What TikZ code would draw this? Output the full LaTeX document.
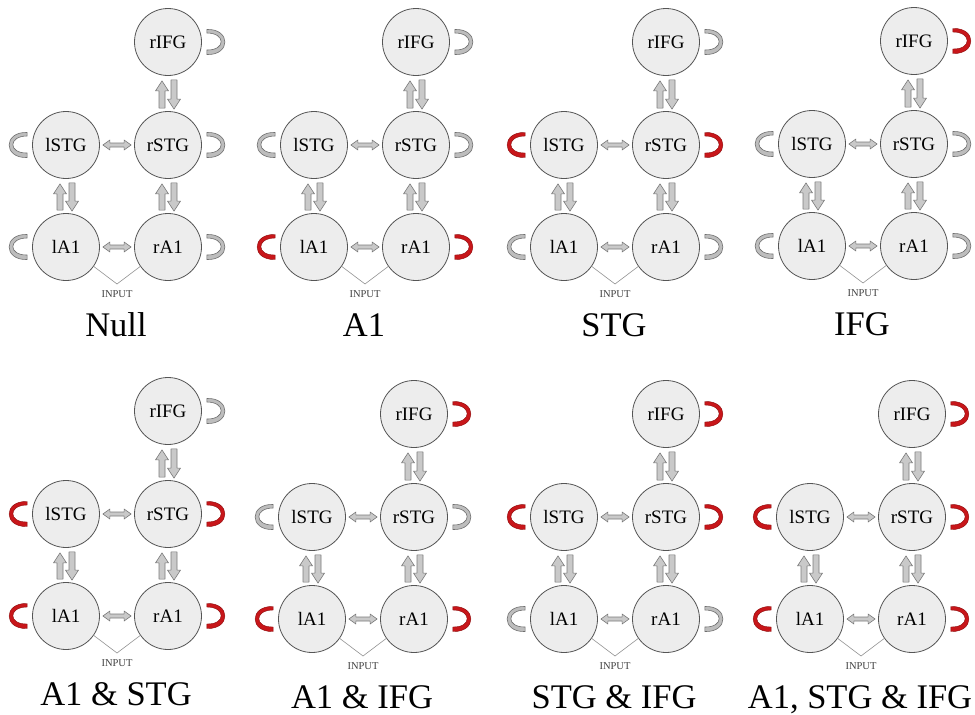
\documentclass[tikz,border=0pt]{standalone}
\usepackage{fontspec}
\setmainfont{Liberation Serif}
\usetikzlibrary{calc}
\definecolor{nodefill}{HTML}{EDEDED}
\definecolor{nodeline}{HTML}{555555}
\definecolor{arrfill}{HTML}{C9C9C9}
\definecolor{arrline}{HTML}{7A7A7A}
\definecolor{loopgray}{HTML}{BDBDBD}
\definecolor{loopgrayline}{HTML}{6E6E6E}
\definecolor{loopred}{HTML}{C8161A}
\definecolor{loopredline}{HTML}{8A0A0A}
\tikzset{
  region/.style={circle, draw=nodeline, fill=nodefill, line width=0.8pt, minimum size=67pt, inner sep=0pt, font=\fontsize{19}{22}\selectfont},
  blkstyle/.style={draw=arrline, fill=arrfill, line width=0.6pt, line join=round},
  gloop/.style={draw=loopgrayline, fill=loopgray, line width=0.6pt},
  rloop/.style={draw=loopredline, fill=loopred, line width=0.4pt},
  inputline/.style={draw=gray!85, line width=0.6pt},
  inputlabel/.style={font=\fontsize{10.5}{12}\selectfont, text=black!75},
  paneltitle/.style={font=\fontsize{34.5}{40}\selectfont, anchor=base},
}
% single block arrow: tail, head
\newcommand{\blk}[2]{%
  \coordinate (bt) at (#1); \coordinate (bh) at (#2);
  \coordinate (bb) at ($(bh)!10pt!(bt)$);
  \draw[blkstyle] ($(bt)!3pt!90:(bh)$) -- ($(bb)!3pt!-90:(bt)$) -- ($(bb)!6.5pt!-90:(bt)$) -- (bh)
    -- ($(bb)!6.5pt!90:(bt)$) -- ($(bb)!3pt!90:(bt)$) -- ($(bt)!3pt!-90:(bh)$) -- cycle;}
% double-headed block arrow
\newcommand{\dblk}[2]{%
  \coordinate (da) at (#1); \coordinate (db) at (#2);
  \coordinate (dha) at ($(da)!7pt!(db)$); \coordinate (dhb) at ($(db)!7pt!(da)$);
  \draw[blkstyle] (da) -- ($(dha)!5pt!90:(db)$) -- ($(dha)!2pt!90:(db)$) -- ($(dhb)!2pt!-90:(da)$)
    -- ($(dhb)!5pt!-90:(da)$) -- (db) -- ($(dhb)!5pt!90:(da)$) -- ($(dhb)!2pt!90:(da)$)
    -- ($(dha)!2pt!-90:(db)$) -- ($(dha)!5pt!-90:(db)$) -- cycle;}
\newcommand{\loopshape}{(5,-12.5) .. controls (29,-13.5) and (29,13.5) .. (5,12.5) -- (5,8) .. controls (24,8.5) and (24,-9) .. (5,-9) -- cycle}
\newcommand{\selfloopR}[2]{%
  \begin{scope}[shift={(#1.east)}]
    \path[#2] \loopshape;
  \end{scope}}
\newcommand{\selfloopL}[2]{%
  \begin{scope}[shift={(#1.west)}, xscale=-1]
    \path[#2] \loopshape;
  \end{scope}}
% panel: x of left column, y of rIFG, prefix, title, A1 loop, STG loop, IFG loop
\newcommand{\brainpanel}[7]{%
  \node[region] (#3rIFG) at (#1+102,#2) {rIFG};
  \node[region] (#3lSTG) at (#1,#2+103) {lSTG};
  \node[region] (#3rSTG) at (#1+102,#2+103) {rSTG};
  \node[region] (#3lA1) at (#1,#2+205) {lA1};
  \node[region] (#3rA1) at (#1+102,#2+205) {rA1};
  \blk{$(#3rSTG.north)+(-6,-3)$}{$(#3rIFG.south)+(-6,5)$}
  \blk{$(#3rIFG.south)+(6,4)$}{$(#3rSTG.north)+(6,-2)$}
  \blk{$(#3lA1.north)+(-6,-3)$}{$(#3lSTG.south)+(-6,5)$}
  \blk{$(#3lSTG.south)+(6,4)$}{$(#3lA1.north)+(6,-2)$}
  \blk{$(#3rA1.north)+(-6,-3)$}{$(#3rSTG.south)+(-6,5)$}
  \blk{$(#3rSTG.south)+(6,4)$}{$(#3rA1.north)+(6,-2)$}
  \dblk{$(#3lSTG.east)+(3,0)$}{$(#3rSTG.west)+(-3,0)$}
  \dblk{$(#3lA1.east)+(3,0)$}{$(#3rA1.west)+(-3,0)$}
  \selfloopR{#3rIFG}{#7}
  \selfloopL{#3lSTG}{#6}
  \selfloopR{#3rSTG}{#6}
  \selfloopL{#3lA1}{#5}
  \selfloopR{#3rA1}{#5}
  \coordinate (#3in) at (#1+51,#2+242);
  \draw[inputline] (#3lA1.-35) -- (#3in) -- (#3rA1.-145);
  \node[inputlabel] (#3inlbl) at (#1+51,#2+252) {INPUT};
  \node[paneltitle] (#3title) at (#1+50,#2+294) {#4};
}
\begin{document}
\begin{tikzpicture}[x=1pt,y=-1pt]
  \useasboundingbox (0,0) rectangle (975,715);
  \fill[white] (0,0) rectangle (975,715);
  \brainpanel{66}{42}{a}{Null}{gloop}{gloop}{gloop}
  \brainpanel{314}{42}{b}{A1}{rloop}{gloop}{gloop}
  \brainpanel{564}{42}{c}{STG}{gloop}{rloop}{gloop}
  \brainpanel{812}{41}{d}{IFG}{gloop}{gloop}{rloop}
  \brainpanel{66}{411}{e}{A1 \& STG}{rloop}{rloop}{gloop}
  \brainpanel{312}{414}{f}{A1 \& IFG}{rloop}{gloop}{rloop}
  \brainpanel{564}{414}{g}{STG \& IFG}{gloop}{rloop}{rloop}
  \brainpanel{810}{414}{h}{A1, STG \& IFG}{rloop}{rloop}{rloop}
\end{tikzpicture}
\end{document}
